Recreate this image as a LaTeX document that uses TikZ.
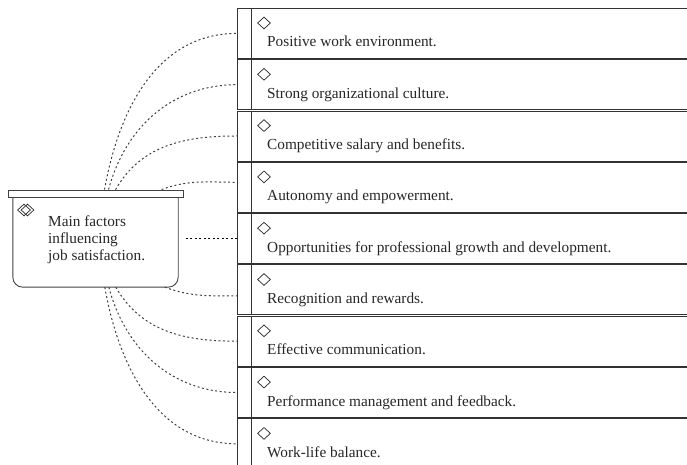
\documentclass[tikz,border=0pt]{standalone}
\usepackage{fontspec}
\setmainfont{Liberation Serif}
\usetikzlibrary{shapes.geometric}

\begin{document}
\begin{tikzpicture}
            [
                x=1pt, y=1pt,
                factor/.style = {draw=black!80, line width=0.8pt, anchor=north west, minimum width=470pt, minimum height=50pt, inner sep=0pt,
                    path picture={\draw[black!80, line width=0.8pt] ([xshift=14pt]path picture bounding box.north west) -- ([xshift=14pt]path picture bounding box.south west);}},
                tick/.style = {draw=black!85, line width=0.7pt, diamond, minimum width=13pt, minimum height=12pt, inner sep=0pt},
                item/.style = {anchor=base west, inner sep=0pt, text=black!85, font=\fontsize{15.3}{15.3}\selectfont},
                link/.style = {draw=black!75, line width=1pt, dash pattern=on 2pt off 2.5pt},
                body/.style = {minimum width=165pt, minimum height=90pt, inner sep=0pt},
                lid/.style = {draw=black!75, line width=0.9pt, fill=white, minimum width=175pt, minimum height=7pt, inner sep=0pt}
            ]
            \useasboundingbox (0,0) rectangle (687,465);
            \clip (0,0) rectangle (687,465);
            % factor boxes on the right
            \node[factor] (f1) at (237,457) {};
            \node[factor] (f2) at (237,405.7) {};
            \node[factor] (f3) at (237,354.4) {};
            \node[factor] (f4) at (237,303.1) {};
            \node[factor] (f5) at (237,251.8) {};
            \node[factor] (f6) at (237,200.5) {};
            \node[factor] (f7) at (237,149.2) {};
            \node[factor] (f8) at (237,97.9) {};
            \node[factor] (f9) at (237,46.6) {};
            \node[tick] (d1) at ([shift={(27pt,-15pt)}]f1.north west) {};
            \node[tick] (d2) at ([shift={(27pt,-15pt)}]f2.north west) {};
            \node[tick] (d3) at ([shift={(27pt,-15pt)}]f3.north west) {};
            \node[tick] (d4) at ([shift={(27pt,-15pt)}]f4.north west) {};
            \node[tick] (d5) at ([shift={(27pt,-15pt)}]f5.north west) {};
            \node[tick] (d6) at ([shift={(27pt,-15pt)}]f6.north west) {};
            \node[tick] (d7) at ([shift={(27pt,-15pt)}]f7.north west) {};
            \node[tick] (d8) at ([shift={(27pt,-15pt)}]f8.north west) {};
            \node[tick] (d9) at ([shift={(27pt,-15pt)}]f9.north west) {};
            \node[item] (t1) at ([shift={(30pt,-39pt)}]f1.north west) {Positive work environment.};
            \node[item] (t2) at ([shift={(30pt,-39pt)}]f2.north west) {Strong organizational culture.};
            \node[item] (t3) at ([shift={(30pt,-39pt)}]f3.north west) {Competitive salary and benefits.};
            \node[item] (t4) at ([shift={(30pt,-39pt)}]f4.north west) {Autonomy and empowerment.};
            \node[item] (t5) at ([shift={(30pt,-39pt)}]f5.north west) {Opportunities for professional growth and development.};
            \node[item] (t6) at ([shift={(30pt,-39pt)}]f6.north west) {Recognition and rewards.};
            \node[item] (t7) at ([shift={(30pt,-39pt)}]f7.north west) {Effective communication.};
            \node[item] (t8) at ([shift={(30pt,-39pt)}]f8.north west) {Performance management and feedback.};
            \node[item] (t9) at ([shift={(30pt,-39pt)}]f9.north west) {Work-life balance.};
            % main topic
            \node[body] (main) at (95.5,223) {};
            \draw[draw=black!75, line width=0.9pt, rounded corners=10pt] (main.north west) -- (main.south west) -- (main.south east) -- (main.north east);
            \node[lid] (lid) at (95.5,271.5) {};
            \node[tick] (m1) at (24,255) {};
            \node[tick] (m2) at (27.5,255) {};
            \node[item, anchor=north west, align=left, font=\fontsize{15.3}{17}\selectfont] (mt) at (48,249) {Main factors\\influencing\\job satisfaction.};
            % connectors
            \draw[link] ([xshift=97pt]lid.north west) to[out=80, in=180] (f1.west);
            \draw[link] ([xshift=101pt]lid.north west) to[out=75, in=180] (f2.west);
            \draw[link] ([xshift=108pt]lid.north west) to[out=60, in=180] (f3.west);
            \draw[link] ([xshift=154pt]lid.north west) to[out=20, in=180] ([yshift=5pt]f4.west);
            \draw[link, draw=black] (f5.west) -- (f5.west -| lid.east);
            \draw[link] ([xshift=152pt]main.south west) to[out=-20, in=180] ([yshift=-6pt]f6.west);
            \draw[link] ([xshift=103pt]main.south west) to[out=-60, in=180] (f7.west);
            \draw[link] ([xshift=96pt]main.south west) to[out=-75, in=180] (f8.west);
            \draw[link] ([xshift=92pt]main.south west) to[out=-80, in=180] (f9.west);
\end{tikzpicture}
\end{document}
